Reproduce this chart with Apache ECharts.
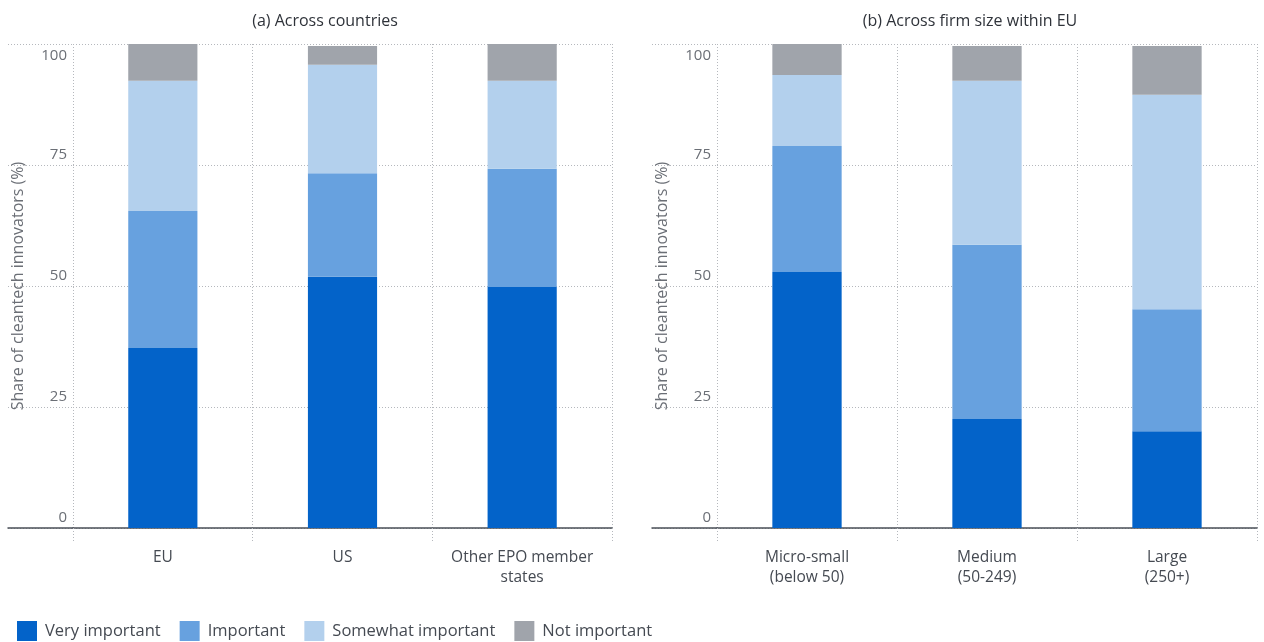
<!DOCTYPE html>
<html><head><meta charset="utf-8">
<script src="https://cdn.jsdelivr.net/npm/echarts@6/dist/echarts.min.js"></script>
<style>html,body{margin:0;padding:0;background:#fff}#c{width:1264px;height:642px}</style>
</head><body><div id="c"></div>
<script>
// ---- data ----
const seriesNames = ['Very important', 'Important', 'Somewhat important', 'Not important'];
const categoriesA = ['EU', 'US', 'Other EPO member\nstates'];
const categoriesB = ['Micro-small\n(below 50)', 'Medium\n(50-249)', 'Large\n(250+)'];
const veryA = [37.2, 51.9, 49.8];
const impA  = [28.3, 21.4, 24.4];
const someA = [26.9, 22.4, 18.2];
const notA  = [7.6, 3.9, 7.6];
const veryB = [52.9, 22.5, 20.0];
const impB  = [26.0, 36.0, 25.2];
const someB = [14.7, 33.9, 44.3];
const notB  = [6.4, 7.2, 10.1];
const yTicks = [0, 25, 50, 75, 100];
const titleA = '(a) Across countries';
const titleB = '(b) Across firm size within EU';
const yName = 'Share of cleantech innovators (%)';

const colors = ['#0363c9', '#67a1df', '#b3d0ed', '#a0a4ab'];
const FONT = 'Open Sans';
const gridCol = '#b5b8bd';

const chart = echarts.init(document.getElementById('c'), null, {renderer: 'canvas'});

function sideY(gi) {
  return {
    type: 'value', gridIndex: gi, min: yTicks[0], max: yTicks[yTicks.length - 1], interval: 25,
    axisLine: {show: false}, axisTick: {show: false}, axisLabel: {show: false},
    splitLine: {show: true, lineStyle: {color: gridCol, type: [1, 2], width: 1}}
  };
}
function mainY(gi) {
  return {
    type: 'value', gridIndex: gi, min: yTicks[0], max: yTicks[yTicks.length - 1], interval: 25,
    name: yName, nameLocation: 'middle', nameGap: 47,
    nameTextStyle: {fontFamily: FONT, fontSize: 16, color: '#6b6f76'},
    axisLine: {show: false}, axisTick: {show: false},
    axisLabel: {
      margin: 6, verticalAlign: 'middle', fontFamily: FONT, fontSize: 15, color: '#6b6f76',
      formatter: v => v === 100 ? '{t|100}' : '{n|' + v + '}',
      rich: {
        n: {fontFamily: FONT, fontSize: 15, color: '#6b6f76', padding: [0, 0, 20, 0]},
        t: {fontFamily: FONT, fontSize: 15, color: '#6b6f76', padding: [24, 0, 0, 0]}
      }
    },
    splitLine: {show: true, lineStyle: {color: gridCol, type: [1, 2], width: 1}}
  };
}
function sideX(gi) {
  return {
    type: 'category', gridIndex: gi, data: [''],
    axisLine: {show: true, lineStyle: {color: '#4a4f57', width: 1.5}},
    axisTick: {show: false}, axisLabel: {show: false}, splitLine: {show: false}
  };
}
function mainX(gi, cats) {
  return {
    type: 'category', gridIndex: gi, data: cats,
    axisLine: {show: true, lineStyle: {color: '#4a4f57', width: 1.5}},
    axisTick: {show: true, length: 13, interval: 0, lineStyle: {color: gridCol, type: [1, 2]}},
    axisLabel: {interval: 0, hideOverlap: false, margin: 20, fontFamily: FONT, fontSize: 15.5,
                color: '#454a52', lineHeight: 20},
    splitLine: {show: true, interval: 0, lineStyle: {color: gridCol, type: [1, 2], width: 1}}
  };
}

const dataA = [veryA, impA, someA, notA];
const dataB = [veryB, impB, someB, notB];
const series = [];
[[dataA, 1, 'a'], [dataB, 3, 'b']].forEach(([d, gi, st]) => {
  d.forEach((vals, i) => {
    series.push({
      name: seriesNames[i], type: 'bar', stack: st,
      xAxisIndex: gi, yAxisIndex: gi, barWidth: '38.5%',
      itemStyle: {color: colors[i]},
      data: vals
    });
  });
});

chart.setOption({
  animation: false,
  title: [
    {text: titleA, left: 320, top: 8, textAlign: 'center',
     textStyle: {fontFamily: FONT, fontSize: 16, fontWeight: 'normal', color: '#2f333a'}},
    {text: titleB, left: 965, top: 8, textAlign: 'center',
     textStyle: {fontFamily: FONT, fontSize: 16, fontWeight: 'normal', color: '#2f333a'}}
  ],
  legend: {
    left: 17, top: 621, padding: 0, itemWidth: 20, itemHeight: 20, itemGap: 19, icon: 'rect',
    data: seriesNames,
    textStyle: {fontFamily: FONT, fontSize: 16.5, color: '#454a52', padding: [0, 0, 0, 3]}
  },
  grid: [
    {left: 8, top: 44, width: 65, bottom: 114},
    {left: 73, top: 44, width: 539, bottom: 114},
    {left: 652, top: 44, width: 65, bottom: 114},
    {left: 717, top: 44, width: 540, bottom: 114}
  ],
  xAxis: [sideX(0), mainX(1, categoriesA), sideX(2), mainX(3, categoriesB)],
  yAxis: [sideY(0), mainY(1), sideY(2), mainY(3)],
  series: series
});
</script></body></html>
